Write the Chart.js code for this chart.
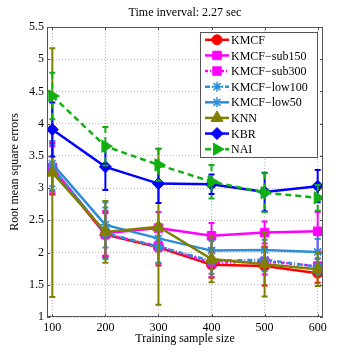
<!DOCTYPE html>
<html>
<head>
<meta charset="utf-8">
<script src="https://cdn.jsdelivr.net/npm/chart.js@4.4.1/dist/chart.umd.min.js"></script>
<style>
  html, body { margin: 0; padding: 0; background: #fff; }
</style>
</head>
<body>
<canvas id="chart" width="357" height="357"></canvas>
<script>
// x positions and tick values
const sampleSizes = [100, 200, 300, 400, 500, 600];
const xTicks = [100, 200, 300, 400, 500, 600];
const yTicks = [1, 1.5, 2, 2.5, 3, 3.5, 4, 4.5, 5, 5.5];

// mean RMSE and half error-bar length per method
const kmcf = [3.30, 2.28, 2.08, 1.81, 1.79, 1.68];
const kmcfErr = [0.40, 0.35, 0.28, 0.20, 0.30, 0.15];
const sub150 = [3.32, 2.30, 2.38, 2.26, 2.31, 2.33];
const sub150Err = [0.40, 0.35, 0.25, 0.20, 0.17, 0.30];
const sub300 = [3.30, 2.28, 2.10, 1.84, 1.86, 1.79];
const sub300Err = [0.35, 0.33, 0.27, 0.22, 0.20, 0.12];
const low100 = [3.32, 2.30, 2.09, 1.87, 1.89, 1.78];
const low100Err = [0.35, 0.40, 0.25, 0.20, 0.18, 0.12];
const low50 = [3.38, 2.43, 2.22, 2.03, 2.04, 2.01];
const low50Err = [0.35, 0.35, 0.20, 0.15, 0.16, 0.20];
const knn = [3.24, 2.32, 2.40, 1.90, 1.82, 1.74];
const knnErr = [1.93, 0.48, 1.21, 0.36, 0.50, 0.26];
const kbr = [3.91, 3.33, 3.07, 3.06, 2.94, 3.03];
const kbrErr = [0.42, 0.36, 0.30, 0.15, 0.30, 0.25];
const nai = [4.43, 3.65, 3.36, 3.10, 2.93, 2.85];
const naiErr = [0.36, 0.30, 0.25, 0.26, 0.30, 0.20];

const FONT = "'Liberation Serif', 'Times New Roman', serif";

function series(label, vals, errs, color, dash, style, radius, rotation) {
  return {
    label: label,
    data: sampleSizes.map((x, i) => ({ x: x, y: vals[i] })),
    errors: errs,
    borderColor: color,
    backgroundColor: color,
    borderWidth: 2.5,
    borderDash: dash,
    pointStyle: style,
    pointRadius: radius,
    pointRotation: rotation || 0,
    pointBorderWidth: style === 'star' ? 1.5 : 1,
    pointBackgroundColor: color,
    pointBorderColor: color,
    tension: 0
  };
}

const datasets = [
  series("KMCF", kmcf, kmcfErr, "#ff0000", [], "circle", 5),
  series("KMCF\u2212sub150", sub150, sub150Err, "#ff00ff", [], "rect", 6),
  series("KMCF\u2212sub300", sub300, sub300Err, "#ff00ff", [3, 2, 1, 2], "rect", 6),
  series("KMCF\u2212low100", low100, low100Err, "#2a8fd8", [5, 2, 1, 2], "star", 5),
  series("KMCF\u2212low50", low50, low50Err, "#2a8fd8", [], "star", 5),
  series("KNN", knn, knnErr, "#808000", [], "triangle", 7),
  series("KBR", kbr, kbrErr, "#0000ff", [], "rectRot", 6),
  series("NAI", nai, naiErr, "#11b011", [6, 4], "triangle", 7, 90)
];
// later series are drawn on top
datasets.forEach((d, i) => { d.order = datasets.length - i; });

const errorBars = {
  id: 'errorBars',
  beforeDatasetDraw(chart, args) {
    const ds = chart.data.datasets[args.index];
    const xs = chart.scales.x, ys = chart.scales.y;
    const ctx = chart.ctx;
    ctx.save();
    ctx.strokeStyle = ds.borderColor;
    ctx.lineWidth = 2;
    ctx.setLineDash(ds.borderDash);
    ds.data.forEach((p, i) => {
      const px = xs.getPixelForValue(p.x);
      const top = ys.getPixelForValue(p.y + ds.errors[i]);
      const bot = ys.getPixelForValue(p.y - ds.errors[i]);
      ctx.beginPath();
      ctx.moveTo(px, top);
      ctx.lineTo(px, bot);
      ctx.stroke();
      ctx.setLineDash([]);
      ctx.beginPath();
      ctx.moveTo(px - 3, top); ctx.lineTo(px + 3, top);
      ctx.moveTo(px - 3, bot); ctx.lineTo(px + 3, bot);
      ctx.stroke();
      ctx.setLineDash(ds.borderDash);
    });
    ctx.restore();
  }
};

// matlab style box, inward ticks, title and legend
const frame = {
  id: 'frame',
  afterDatasetsDraw(chart) {
    const ctx = chart.ctx;
    const a = chart.chartArea;
    const xs = chart.scales.x, ys = chart.scales.y;
    ctx.save();
    ctx.strokeStyle = "#555";
    ctx.lineWidth = 1;
    ctx.setLineDash([]);
    ctx.strokeRect(a.left + 0.5, a.top + 0.5, a.right - a.left - 1, a.bottom - a.top - 1);
    ctx.beginPath();
    xTicks.forEach(t => {
      const px = Math.round(xs.getPixelForValue(t)) + 0.5;
      ctx.moveTo(px, a.bottom); ctx.lineTo(px, a.bottom - 3);
      ctx.moveTo(px, a.top); ctx.lineTo(px, a.top + 3);
    });
    yTicks.forEach(t => {
      const py = Math.round(ys.getPixelForValue(t)) + 0.5;
      ctx.moveTo(a.left, py); ctx.lineTo(a.left + 3, py);
      ctx.moveTo(a.right, py); ctx.lineTo(a.right - 3, py);
    });
    ctx.stroke();

    // title
    ctx.fillStyle = "#000";
    ctx.font = "12px " + FONT;
    ctx.textAlign = "center";
    ctx.textBaseline = "middle";
    ctx.fillText("Time inverval: 2.27 sec", (a.left + a.right) / 2, 13);

    // legend
    const lx = 200, ly = 32, lw = 117, lh = 125;
    ctx.fillStyle = "#fff";
    ctx.fillRect(lx, ly, lw, lh);
    ctx.strokeStyle = "#555";
    ctx.strokeRect(lx + 0.5, ly + 0.5, lw, lh);
    const rowH = lh / datasets.length;
    chart.data.datasets.forEach((ds, i) => {
      const cy = ly + rowH * (i + 0.5);
      ctx.strokeStyle = ds.borderColor;
      ctx.lineWidth = 2.5;
      ctx.setLineDash(ds.borderDash);
      ctx.beginPath();
      ctx.moveTo(lx + 5, cy);
      ctx.lineTo(lx + 29, cy);
      ctx.stroke();
      ctx.setLineDash([]);
      ctx.fillStyle = ds.borderColor;
      ctx.lineWidth = ds.pointBorderWidth;
      Chart.helpers.drawPoint(ctx, {
        pointStyle: ds.pointStyle,
        radius: ds.pointRadius,
        rotation: ds.pointRotation,
        borderWidth: ds.pointBorderWidth
      }, lx + 17, cy);
      ctx.fillStyle = "#000";
      ctx.font = "12px " + FONT;
      ctx.textAlign = "left";
      ctx.fillText(ds.label, lx + 31, cy + 1);
    });
    ctx.restore();
  }
};

const gridStyle = {
  color: "#b8b8b8",
  lineWidth: 1,
  drawTicks: false
};

new Chart(document.getElementById("chart"), {
  type: "line",
  data: { datasets: datasets },
  options: {
    responsive: false,
    animation: false,
    devicePixelRatio: 1,
    layout: { padding: { top: 27, right: 34, left: 0, bottom: 0 } },
    plugins: {
      legend: { display: false },
      tooltip: { enabled: false },
      title: { display: false }
    },
    scales: {
      x: {
        type: "linear",
        min: 90,
        max: 610,
        afterBuildTicks: s => { s.ticks = xTicks.map(v => ({ value: v })); },
        afterFit: s => { s.height = 40; },
        grid: gridStyle,
        border: { display: false, dash: [1, 2] },
        ticks: { color: "#000", padding: 4, font: { family: FONT, size: 12 }, maxRotation: 0,
                 callback: v => String(v) },
        title: { display: true, text: "Training sample size", color: "#000",
                 font: { family: FONT, size: 12 }, padding: { top: 0, bottom: 11 } }
      },
      y: {
        min: 1,
        max: 5.5,
        afterBuildTicks: s => { s.ticks = yTicks.map(v => ({ value: v })); },
        afterFit: s => { s.width = 47; },
        grid: gridStyle,
        border: { display: false, dash: [1, 2] },
        ticks: { color: "#000", padding: 3, font: { family: FONT, size: 12 },
                 callback: v => String(v) },
        title: { display: true, text: "Root mean square errors", color: "#000",
                 font: { family: FONT, size: 12 }, padding: { top: 8, bottom: 0 } }
      }
    }
  },
  plugins: [errorBars, frame]
});
</script>
</body>
</html>
